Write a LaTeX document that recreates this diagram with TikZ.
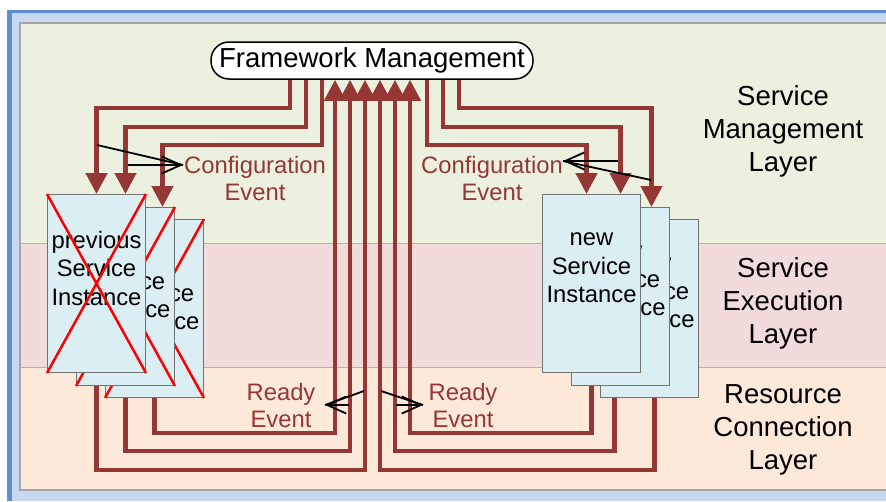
\documentclass[tikz,border=0pt]{standalone}
\usepackage{fontspec}
\setmainfont{Liberation Sans}
\usepackage{xcolor}
\usepackage{tikz}
\usetikzlibrary{positioning, arrows.meta, calc}

\definecolor{mgmtgreen}{HTML}{EBF1DE}
\definecolor{execpink}{HTML}{F2DCDB}
\definecolor{respeach}{HTML}{FDE9D9}
\definecolor{flowred}{HTML}{953735}
\definecolor{instblue}{HTML}{DBEEF3}
\definecolor{frameblue}{HTML}{5B8DD6}
\definecolor{framelight}{HTML}{C6D9F1}

\pgfdeclarelayer{bands}
\pgfdeclarelayer{links}
\pgfsetlayers{bands,links,main}

\begin{document}
\begin{tikzpicture}[
    % one unit = one pixel of the original slide
    x=1pt, y=-1pt,
    % Framework block
    fw_box/.style={
        draw,
        line width=1.5pt,
        fill=white,
        rounded corners=18pt,
        minimum width=322pt,
        minimum height=37pt,
        inner sep=0pt,
        font=\fontsize{27.5}{33}\selectfont
    },
    % service instance sheets
    inst_box/.style={
        draw=black!55,
        line width=1pt,
        fill=instblue,
        minimum width=98pt,
        minimum height=178pt,
        inner sep=0pt,
        anchor=north west
    },
    inst_text/.style={
        align=center,
        inner sep=0pt,
        font=\fontsize{23.8}{28.5}\selectfont
    },
    layer_text/.style={
        align=center,
        inner sep=0pt,
        font=\fontsize{27.5}{33}\selectfont
    },
    event_text/.style={
        align=center,
        inner sep=0pt,
        text=flowred,
        font=\fontsize{23.8}{27}\selectfont
    },
    % thick event flows
    flow/.style={
        draw=flowred,
        line width=4.5pt,
        -{Triangle[width=21pt,length=21pt]}
    },
    cross/.style={draw=red, line width=2.5pt},
    callout/.style={draw=black, line width=1.8pt},
    callout_tip/.style={callout, -{Straight Barb[length=19pt,width=17pt]}}
]

\useasboundingbox (0,0) rectangle (886,501);

% =====================================================================
% LAYERS / BACKGROUND
% =====================================================================
\begin{pgfonlayer}{bands}
\fill[framelight] (7,10) rectangle (886,501);
\fill[frameblue] (7,10) rectangle (886,13);
\fill[frameblue] (7,10) rectangle (12,501);
\draw[black!45, line width=0.8pt] (7,10) -- (7,501);
\fill[mgmtgreen] (20,23) rectangle (886,243);
\fill[execpink] (20,243) rectangle (886,367);
\fill[respeach] (20,367) rectangle (886,490);
\draw[black!35, line width=1.2pt] (886,23) -- (20,23) -- (20,490) -- (886,490);
\draw[black!30, line width=1pt] (20,243) -- (886,243) (20,367) -- (886,367);
\end{pgfonlayer}

% =====================================================================
% NODES
% =====================================================================
\node[fw_box] (fm) at (372,60.5) {Framework Management};

\node[layer_text] (sml) at (783,131) {Service\\Management\\Layer};
\node[layer_text] (sel) at (783,303) {Service\\Execution\\Layer};
\node[layer_text] (rcl) at (783,430) {Resource\\Connection\\Layer};

\node[event_text] (cfgL) at (255,178) {Configuration\\Event};
\node[event_text] (cfgR) at (492,178) {Configuration\\Event};
\node[event_text] (rdyL) at (281,405) {Ready\\Event};
\node[event_text] (rdyR) at (463,405) {Ready\\Event};

% previous service instances (back to front)
\node[inst_box] (p3) at (105,219) {};
\node[inst_text] (p3t) at ($(p3.north)+(0,88)$) {Service\\Instance};
\draw[cross] (p3.north west) -- (p3.south east) (p3.north east) -- (p3.south west);
\node[inst_box] (p2) at (76,207) {};
\node[inst_text] (p2t) at ($(p2.north)+(0,88)$) {Service\\Instance};
\draw[cross] (p2.north west) -- (p2.south east) (p2.north east) -- (p2.south west);
\node[inst_box] (p1) at (47,194) {};
\node[inst_text] (p1t) at ($(p1.north)+(0,74)$) {previous\\Service\\Instance};
\draw[cross] (p1.north west) -- (p1.south east) (p1.north east) -- (p1.south west);

% new service instances (back to front)
\node[inst_box] (n3) at (600,219) {};
\node[inst_text] (n3t) at ($(n3.north)+(0,74)$) {new\\Service\\Instance};
\node[inst_box] (n2) at (571,207) {};
\node[inst_text] (n2t) at ($(n2.north)+(0,74)$) {new\\Service\\Instance};
\node[inst_box] (n1) at (542,194) {};
\node[inst_text] (n1t) at ($(n1.north)+(0,74)$) {new\\Service\\Instance};

% =====================================================================
% EVENT FLOWS
% =====================================================================
\begin{pgfonlayer}{links}
% configuration events
\draw[flow] ($(fm.south)+(-82,0)$) -- ++(0,28) -| (p1.north);
\draw[flow] ($(fm.south)+(-66,0)$) -- ++(0,47) -| (p2.north |- p1.north);
\draw[flow] ($(fm.south)+(-50,0)$) -- ++(0,65) -| ($(p2.north)+(37,0)$);
\draw[flow] ($(fm.south)+(55,0)$) -- ++(0,65) -| ($(n1.north)+(-5,0)$);
\draw[flow] ($(fm.south)+(71,0)$) -- ++(0,47) -| (n2.north |- n1.north);
\draw[flow] ($(fm.south)+(87,0)$) -- ++(0,28) -| ($(n2.north)+(31,0)$);
% ready events
\draw[flow] (p1.south) -- ++(0,97) -| ($(fm.south)+(-7,0)$);
\draw[flow] (p2.south) -- ++(0,65) -| ($(fm.south)+(-22,0)$);
\draw[flow] (p3.south) -- ++(0,35) -| ($(fm.south)+(-37,0)$);
\draw[flow] (n1.south) -- ++(0,60) -| ($(fm.south)+(38,0)$);
\draw[flow] ($(n2.south)+(-6,0)$) -- ++(0,65) -| ($(fm.south)+(23,0)$);
\draw[flow] ($(n3.south)+(5,0)$) -- ++(0,72) -| ($(fm.south)+(8,0)$);
\end{pgfonlayer}

% =====================================================================
% CALLOUTS
% =====================================================================
\coordinate (cfgLtip) at (183,165);
\coordinate (cfgLa) at (97,145);
\coordinate (cfgLb) at (128,165);
\coordinate (cfgRtip) at (563,161);
\coordinate (cfgRa) at (618,161);
\coordinate (cfgRb) at (651,180);
\coordinate (rdyLtip) at (325,405);
\coordinate (rdyLa) at (349,405);
\coordinate (rdyLb) at (364,391);
\coordinate (rdyRtip) at (423,405);
\coordinate (rdyRa) at (396,405);
\coordinate (rdyRb) at (381,391);

\draw[callout] (cfgLa) -- (cfgLtip);
\draw[callout_tip] (cfgLb) -- (cfgLtip);
\draw[callout_tip] (cfgRa) -- (cfgRtip);
\draw[callout] (cfgRb) -- (cfgRtip);
\draw[callout_tip] (rdyLa) -- (rdyLtip);
\draw[callout] (rdyLb) -- (rdyLtip);
\draw[callout_tip] (rdyRa) -- (rdyRtip);
\draw[callout] (rdyRb) -- (rdyRtip);

\end{tikzpicture}
\end{document}
